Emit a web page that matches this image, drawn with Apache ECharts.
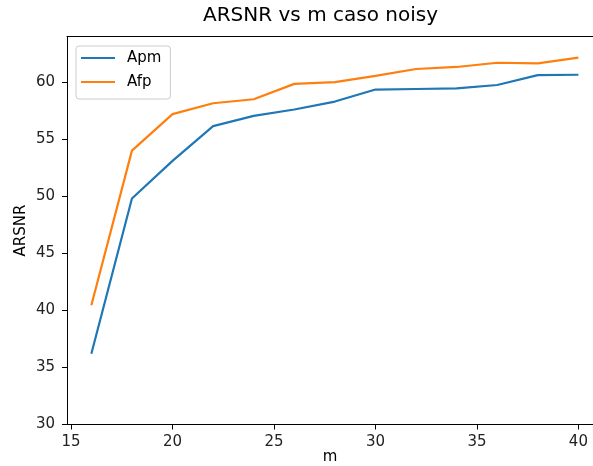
<!DOCTYPE html>
<html>
<head>
<meta charset="utf-8">
<script src="https://cdn.jsdelivr.net/npm/echarts@6/dist/echarts.min.js"></script>
<style>html,body{margin:0;padding:0;background:#fff;}#chart{width:593px;height:466px;}</style>
</head>
<body>
<div id="chart"></div>
<script>
const mValues = [16, 18, 20, 22, 24, 26, 28, 30, 32, 34, 36, 38, 40];
const apm = [36.2, 49.8, 53.1, 56.15, 57.05, 57.6, 58.3, 59.35, 59.4, 59.45, 59.75, 60.62, 60.65];
const afp = [40.45, 54.0, 57.2, 58.15, 58.5, 59.85, 60.0, 60.55, 61.15, 61.33, 61.7, 61.65, 62.15];
const xTicks = [15, 20, 25, 30, 35, 40];
const yTicks = [30, 35, 40, 45, 50, 55, 60];

const FONT = 'DejaVu Sans';
const chart = echarts.init(document.getElementById('chart'), null, {renderer: 'canvas'});
const pairs = (ys) => mValues.map((m, i) => [m, ys[i]]);
const axisFont = {fontFamily: FONT, fontSize: 15, color: '#222'};

chart.setOption({
  animation: false,
  backgroundColor: '#fff',
  graphic: [{
    type: 'text',
    x: 320.5,
    y: 16,
    style: {
      text: 'ARSNR vs m caso noisy',
      fontFamily: FONT,
      fontSize: 20,
      fill: '#000',
      textAlign: 'center',
      textVerticalAlign: 'middle'
    }
  }],
  grid: {
    left: 67,
    top: 36.5,
    right: 0,
    bottom: 41.5,
    show: false,
    containLabel: false,
    outerBoundsMode: 'none'
  },
  legend: {
    orient: 'vertical',
    left: 76,
    top: 46,
    padding: [4, 9, 9, 5],
    itemGap: 8,
    itemWidth: 34,
    itemHeight: 2.2,
    icon: 'rect',
    backgroundColor: 'rgba(255,255,255,0.8)',
    borderColor: '#cccccc',
    borderWidth: 1,
    borderRadius: 3,
    textStyle: {fontFamily: FONT, fontSize: 15, color: '#000', lineHeight: 16, padding: [0, 0, 0, 7]},
    data: ['Apm', 'Afp']
  },
  xAxis: [{
    type: 'value',
    min: 14.8,
    max: 40.72,
    name: 'm',
    nameLocation: 'middle',
    nameGap: 25,
    nameMoveOverlap: false,
    nameTextStyle: {fontFamily: FONT, fontSize: 15, color: '#000'},
    splitLine: {show: false},
    axisLine: {show: true, lineStyle: {color: '#000', width: 1}},
    axisTick: {show: true, length: 5, lineStyle: {color: '#000', width: 1}, customValues: xTicks},
    axisLabel: Object.assign({margin: 10, customValues: xTicks}, axisFont)
  }, {
    type: 'value',
    position: 'top',
    min: 14.8,
    max: 40.72,
    splitLine: {show: false},
    axisLine: {show: true, lineStyle: {color: '#000', width: 1}},
    axisTick: {show: false},
    axisLabel: {show: false}
  }],
  yAxis: {
    type: 'value',
    min: 30,
    max: 64,
    name: 'ARSNR',
    nameLocation: 'middle',
    nameGap: 38,
    nameMoveOverlap: false,
    nameTextStyle: {fontFamily: FONT, fontSize: 15, color: '#000'},
    splitLine: {show: false},
    axisLine: {show: true, lineStyle: {color: '#000', width: 1}},
    axisTick: {show: true, length: 5, lineStyle: {color: '#000', width: 1}, customValues: yTicks},
    axisLabel: Object.assign({margin: 12, customValues: yTicks}, axisFont)
  },
  series: [
    {
      name: 'Apm', type: 'line', data: pairs(apm), showSymbol: false, symbol: 'none',
      color: '#1f77b4', lineStyle: {color: '#1f77b4', width: 2.2}
    },
    {
      name: 'Afp', type: 'line', data: pairs(afp), showSymbol: false, symbol: 'none',
      color: '#ff7f0e', lineStyle: {color: '#ff7f0e', width: 2.2}
    }
  ]
});
</script>
</body>
</html>
